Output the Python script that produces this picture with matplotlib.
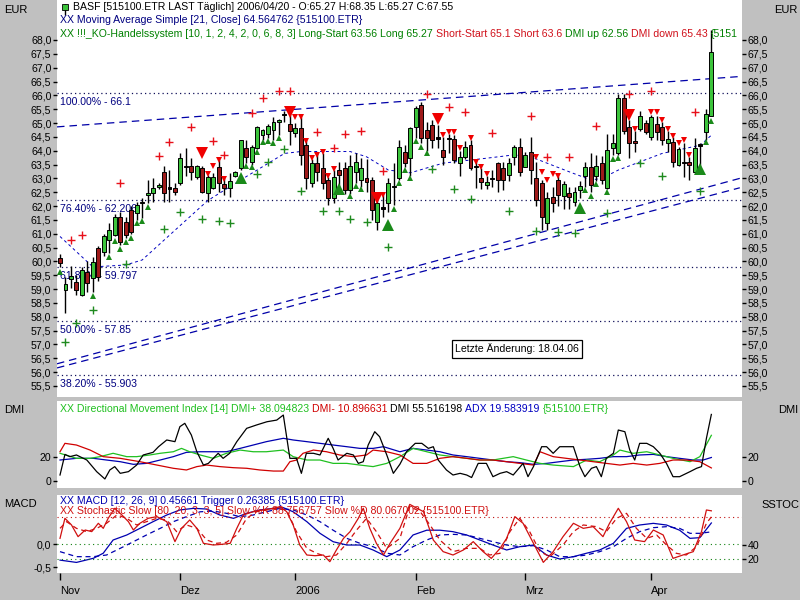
import matplotlib
matplotlib.use("Agg")
import matplotlib.pyplot as plt
from matplotlib.transforms import IdentityTransform
import numpy as np

plt.rcParams['font.family'] = ['Liberation Sans', 'DejaVu Sans']

# ---- price data (trading days from 2005-11-01 to 2006-04-20) ----
opens = [60.12, 58.96, 59.36, 59.27, 58.80, 59.60, 59.40, 60.49, 60.35, 60.78,
         60.96, 61.62, 61.44, 61.86, 61.74, 62.16, 62.40, 62.47, 62.69, 63.24,
         62.67, 62.65, 62.83, 63.41, 63.45, 63.05, 63.38, 62.47, 62.65, 63.41,
         62.80, 62.64, 63.09, 63.37, 64.09, 63.60, 64.10, 64.57, 64.60, 64.75,
         65.03, 65.28, 64.97, 64.64, 64.82, 64.20, 62.83, 63.56, 63.38, 62.94,
         62.29, 63.30, 63.38, 62.58, 63.24, 62.94, 63.03, 62.94, 61.44, 61.90,
         62.11, 62.68, 63.01, 63.97, 63.74, 64.87, 65.65, 64.75, 64.93, 64.44,
         64.03, 64.42, 64.42, 63.55, 63.77, 64.20, 63.40, 63.03, 62.76, 62.98,
         63.56, 63.38, 63.12, 63.78, 64.15, 63.42, 63.97, 63.00, 62.83, 61.38,
         62.34, 62.94, 62.37, 62.47, 62.16, 62.58, 63.09, 63.42, 63.10, 63.55,
         62.64, 64.09, 63.92, 65.90, 64.87, 64.36, 64.80, 65.01, 64.51, 64.97,
         64.87, 64.27, 64.33, 63.48, 63.55, 63.60, 63.24, 64.18, 64.69, 65.27]
highs = [60.27, 59.45, 59.85, 59.50, 59.80, 60.00, 60.17, 60.55, 61.00, 61.40,
         61.70, 61.80, 61.60, 62.00, 62.16, 62.30, 62.94, 63.00, 62.85, 63.45,
         63.30, 62.85, 63.90, 64.10, 63.74, 63.50, 63.45, 63.12, 63.20, 63.66,
         63.00, 63.20, 63.26, 64.39, 64.39, 64.20, 64.90, 64.80, 64.95, 65.20,
         65.15, 65.45, 65.36, 65.00, 65.20, 64.40, 63.70, 63.90, 63.90, 63.06,
         63.30, 63.60, 63.60, 63.85, 63.90, 63.75, 63.70, 63.06, 62.30, 62.40,
         63.00, 63.56, 64.40, 64.20, 64.87, 65.60, 65.77, 65.05, 65.10, 64.93,
         64.50, 64.60, 64.55, 64.00, 64.35, 64.40, 63.70, 63.36, 63.10, 63.30,
         63.60, 63.60, 63.74, 64.20, 64.45, 63.97, 64.50, 63.60, 62.94, 62.50,
         62.70, 63.10, 62.90, 62.70, 62.70, 62.90, 63.60, 63.90, 63.85, 63.80,
         64.60, 64.60, 66.05, 66.05, 65.10, 64.70, 65.45, 65.10, 65.30, 65.25,
         65.05, 64.70, 64.50, 64.15, 64.28, 63.78, 64.45, 64.28, 65.50, 68.35]
lows = [59.81, 58.14, 59.05, 58.80, 58.75, 58.90, 58.90, 59.30, 60.20, 60.30,
        60.90, 60.60, 60.85, 61.00, 61.50, 61.57, 62.10, 62.15, 62.60, 62.16,
        62.16, 62.40, 62.76, 63.10, 62.94, 62.98, 62.47, 62.16, 62.60, 62.52,
        62.40, 62.34, 63.05, 63.30, 63.55, 63.50, 64.05, 64.40, 64.45, 64.40,
        64.55, 65.03, 64.20, 64.50, 63.48, 62.60, 62.70, 62.90, 62.60, 62.05,
        62.10, 62.60, 62.45, 62.45, 62.85, 62.70, 62.50, 61.50, 61.14, 61.60,
        61.80, 62.04, 62.95, 63.40, 63.10, 64.46, 64.28, 64.00, 64.10, 64.08,
        63.50, 63.90, 63.55, 63.10, 63.70, 63.30, 62.65, 62.60, 62.60, 62.70,
        62.50, 62.58, 62.90, 63.50, 63.10, 63.40, 62.80, 62.00, 61.14, 61.14,
        61.80, 62.00, 61.90, 61.90, 62.00, 62.30, 62.70, 62.50, 62.90, 62.80,
        62.60, 63.85, 63.85, 64.60, 63.73, 63.95, 64.70, 64.60, 64.40, 64.40,
        64.20, 63.95, 63.40, 63.45, 63.06, 62.94, 63.18, 63.20, 64.40, 65.27]
closes = [59.94, 59.18, 59.47, 58.97, 59.69, 59.23, 59.99, 59.45, 60.92, 61.14,
          61.60, 60.71, 60.96, 61.07, 62.04, 62.10, 62.47, 62.65, 62.76, 62.46,
          62.63, 62.50, 63.74, 63.45, 63.24, 63.45, 62.52, 63.05, 63.06, 62.83,
          62.66, 62.92, 63.24, 64.39, 63.78, 64.12, 64.87, 64.75, 64.88, 65.05,
          65.10, 65.32, 64.70, 64.82, 63.85, 63.00, 63.56, 63.24, 62.83, 62.29,
          63.06, 63.12, 62.58, 63.45, 63.60, 63.38, 62.88, 61.86, 62.11, 61.95,
          62.83, 62.73, 64.15, 63.56, 64.82, 65.54, 64.46, 64.46, 64.39, 64.48,
          63.78, 64.47, 63.66, 63.78, 64.15, 63.36, 63.45, 62.88, 62.88, 63.02,
          62.94, 62.94, 63.56, 64.15, 63.24, 63.85, 63.30, 62.22, 61.62, 62.29,
          62.10, 62.40, 62.79, 62.34, 62.52, 62.74, 63.40, 62.75, 63.45, 62.94,
          64.03, 64.27, 65.90, 64.70, 64.27, 64.27, 65.25, 64.69, 65.23, 64.69,
          64.39, 64.41, 63.60, 64.05, 63.58, 63.48, 64.09, 64.23, 65.33, 67.55]

# simple moving average 21
ma_idx = [0, 6, 12, 15, 27, 33, 41, 44, 53, 56, 60, 64, 70, 78, 83, 86, 93, 97, 99, 102, 110, 117, 119]
ma_val = [60.9, 59.8, 59.87, 60.05, 62.2, 62.94, 63.9, 63.97, 63.97, 63.78, 63.3, 63.2, 63.55,
          63.73, 63.85, 63.78, 63.24, 62.94, 63.0, 63.3, 63.9, 64.2, 64.56]

# trend lines (start/end index and price)
trend_upper = ([-0.55, 124.2], [64.86, 66.68])
trend_low1 = ([-0.55, 124.2], [56.30, 63.00])
trend_low2 = ([-0.55, 124.2], [56.15, 62.66])

fib_levels = [66.1, 62.206, 59.797, 57.85, 55.903]
fib_labels = ['100.00% - 66.1', '76.40% - 62.206', '61.80% - 59.797', '50.00% - 57.85', '38.20% - 55.903']

# trading system signals
red_plus_idx = [2, 4, 11, 18, 20, 24, 28, 30, 35, 37, 40, 42, 47, 50, 52, 55, 59, 67, 71, 74, 79, 86, 89, 93, 98, 104, 108, 116]
red_plus_val = [60.77, 60.95, 62.84, 63.82, 64.33, 64.87, 64.35, 63.85, 65.35, 65.89, 66.16, 66.16, 64.68, 64.09,
                64.59, 64.71, 63.27, 66.04, 65.59, 65.39, 64.63, 65.27, 63.78, 63.78, 64.89, 66.04, 66.16, 65.39]
green_plus_idx = [1, 3, 6, 12, 19, 22, 26, 29, 31, 36, 38, 41, 44, 48, 51, 53, 56, 60, 68, 72, 75, 82, 87, 91, 94, 100, 106, 110, 117]
green_plus_val = [57.1, 57.77, 58.25, 59.9, 61.16, 61.8, 61.52, 61.47, 61.38, 63.16, 63.6, 64.05, 62.55, 61.82, 61.82,
                  61.53, 61.44, 60.53, 63.33, 62.61, 62.26, 61.82, 61.11, 61.05, 61.02, 61.76, 63.55, 63.09, 62.55]
short_idx = [27, 28, 29, 30, 43, 44, 45, 46, 47, 48, 49, 50, 59, 70, 71, 72, 73, 75, 76, 77, 78, 87, 88, 89, 90, 91,
             105, 108, 109, 110, 111, 112, 113, 114, 115]
short_val = [63.15, 63.45, 63.66, 62.98, 65.23, 65.2, 64.35, 63.75, 63.85, 63.94, 63.1, 63.35, 62.4, 64.55, 64.67,
             64.67, 64.1, 64.45, 63.6, 63.42, 63.16, 63.78, 63.24, 62.94, 63.16, 63.1,
             64.77, 65.4, 65.4, 65.1, 64.78, 64.53, 64.27, 64.4, 63.85]
short_start_idx = [26, 42, 58, 69, 104]
short_start_val = [63.93, 65.38, 62.28, 65.13, 65.29]
long_idx = [0, 6, 9, 10, 11, 12, 13, 14, 15, 16, 34, 35, 36, 37, 38, 39, 40, 53, 54, 55, 61, 62, 63, 64, 65, 66, 67,
            96, 97, 98, 100, 101, 102, 118, 119]
long_val = [59.6, 58.75, 60.15, 60.75, 60.45, 60.7, 60.85, 61.4, 61.45, 61.95, 63.45, 63.4, 63.95, 64.3, 64.35, 64.27,
            64.45, 62.35, 62.73, 62.6, 61.9, 62.85, 63.3, 63.0, 64.35, 64.15, 63.9,
            62.58, 62.38, 62.8, 62.5, 63.7, 63.75, 64.3, 65.09]
long_start_idx = [33, 51, 60, 95, 117]
long_start_val = [63.0, 62.6, 61.32, 61.92, 63.33]

# ---- DMI panel ----
dx_idx = [0, 0.9, 1.8, 3, 4.9, 6.7, 8.2, 9.1, 10, 11, 12.5, 14, 15.2, 17, 18, 19.5, 21, 21.9, 22.8, 24, 25, 26.2,
          27.1, 28, 28.9, 29.8, 31, 32.3, 34.1, 35.9, 37.8, 39.6, 40.8, 42, 43.2, 44.1, 45, 46.3, 47.5, 49, 49.9,
          50.8, 52.4, 53.6, 54.5, 55.4, 56.3, 57.5, 58.4, 59.7, 60.9, 62.1, 63.3, 64.9, 66.1, 67.3, 68.2, 69.1,
          70.6, 71.8, 73.1, 74.3, 75.2, 76.4, 77.9, 79.1, 80.4, 81.6, 82.8, 84.6, 85.5, 86.5, 88, 88.9, 90.1, 91.3,
          92.5, 93.8, 95, 95.9, 97.1, 98, 98.9, 99.8, 101.1, 102, 103.2, 104.1, 105, 105.9, 107.2, 108.4, 109.6,
          110.8, 112, 113.2, 115.1, 116.3, 117.2, 118.1, 119]
dx_val = [5.0, 22.2, 20.3, 21.7, 17.5, 7.8, 1.7, 9.2, 12.0, 6.4, 7.8, 13.3, 21.7, 23.9, 28.6, 34.2, 32.8, 45.3, 48.1,
          38.3, 24.4, 13.3, 14.7, 18.9, 23.1, 18.9, 23.1, 32.8, 43.9, 46.7, 49.4, 50.8, 55.0, 18.9, 18.9, 6.4, 23.1,
          23.1, 21.7, 35.6, 27.2, 17.5, 23.1, 21.7, 14.7, 16.1, 30.0, 41.1, 36.9, 21.7, 6.4, 14.0, 24.4, 31.4, 31.4,
          27.2, 28.6, 17.5, 9.2, 5.0, 6.4, 5.0, 2.9, 14.7, 14.7, 3.6, 6.4, 7.8, 5.0, 14.7, 3.6, 12.0, 28.6, 28.6,
          23.1, 28.6, 28.6, 28.6, 12.0, 3.6, 10.6, 12.0, 3.6, 18.9, 23.1, 42.5, 41.1, 25.8, 17.5, 31.4, 31.4, 28.6,
          23.1, 14.7, 3.6, 3.6, 7.8, 10.6, 12.0, 35.6, 55.5]
dip_idx = [0, 3, 5.5, 7.3, 9.7, 12.2, 14, 16.4, 18.3, 20.7, 22.2, 23.7, 25.6, 28, 30.4, 32.9, 35.3, 37.7, 40.8, 42.6,
           45.1, 47.5, 49.9, 52.4, 54.8, 57.2, 59.7, 62.1, 64.5, 67, 69.4, 71.8, 74.3, 76.7, 79.1, 82.8, 85.2, 87.7,
           90.1, 93.8, 96.2, 98.6, 101.1, 102.3, 104.7, 107.2, 109.6, 112, 115.1, 116.9, 119]
dip_val = [23.1, 18.9, 18.9, 20.3, 23.1, 20.3, 20.3, 21.7, 23.1, 24.4, 27.2, 24.4, 21.7, 18.9, 23.1, 25.8, 24.4, 24.4,
           25.8, 20.3, 17.5, 17.5, 14.7, 14.7, 13.3, 12.0, 14.7, 20.3, 27.2, 24.4, 21.7, 20.3, 18.9, 17.5, 17.5, 20.3,
           17.5, 14.7, 13.3, 12.0, 17.5, 16.1, 21.7, 25.8, 23.1, 24.4, 21.7, 18.9, 16.1, 20.3, 38.1]
dim_idx = [0, 0.9, 3, 5.5, 7.9, 11, 14.6, 17.7, 20.7, 23.1, 25, 26.8, 29.2, 31.7, 34.1, 36.5, 39, 40.8, 42, 43.2,
           44.4, 46.3, 48.7, 51.1, 53.6, 56, 57.2, 59.7, 62.1, 64.5, 67, 69.4, 71.8, 74.3, 76.7, 79.1, 81.6, 84,
           86.5, 87.7, 90.1, 92.5, 95, 97.4, 99.8, 102.3, 104.7, 107.2, 109.6, 112, 114.4, 116.9, 119]
dim_val = [24.4, 31.4, 30.0, 25.8, 20.3, 18.9, 16.1, 13.3, 10.6, 9.2, 12.0, 13.3, 12.0, 11.1, 10.6, 9.2, 8.3, 8.3,
           16.1, 17.5, 23.1, 25.8, 24.4, 21.7, 20.3, 21.7, 25.8, 24.4, 21.7, 14.7, 14.7, 18.9, 20.3, 18.9, 17.5,
           17.5, 16.1, 14.7, 13.3, 24.4, 20.3, 18.9, 17.5, 16.1, 14.7, 13.3, 14.7, 13.3, 14.7, 17.5, 17.5, 16.1, 10.9]
adx_idx = [0, 3, 6.1, 8.5, 11, 13.4, 15.8, 18.3, 20.7, 23.1, 25.6, 28, 30.4, 32.9, 35.3, 37.7, 40.8, 42.6, 45.1,
           47.5, 49.9, 52.4, 54.8, 57.2, 59.1, 62.1, 64.5, 67, 69.4, 71.8, 74.3, 76.7, 79.1, 81.6, 84, 86.5, 88.9,
           91.3, 93.8, 96.2, 98.6, 101.1, 103.5, 105.9, 108.4, 110.8, 113.2, 115.7, 117.5, 119]
adx_val = [17.5, 18.9, 18.9, 17.5, 16.1, 13.9, 14.7, 17.5, 20.3, 23.9, 24.4, 24.4, 24.4, 27.2, 30.0, 32.8, 35.6,
           34.2, 32.8, 31.4, 30.0, 28.6, 27.2, 27.2, 28.6, 24.4, 27.2, 25.8, 24.4, 21.7, 20.3, 18.9, 17.5, 16.1,
           15.3, 13.9, 14.7, 16.1, 17.5, 18.1, 18.9, 20.3, 20.3, 21.7, 22.2, 20.3, 18.9, 17.5, 17.5, 19.6]

# ---- MACD / slow stochastics panel ----
macd_idx = [0, 3, 6.1, 7.9, 9.7, 12.2, 14.6, 17, 19.5, 21.9, 24.4, 26.8, 29.2, 31.7, 34.1, 36.5, 39, 40.8, 42.6,
            45.1, 47.5, 49.9, 52.4, 54.8, 57.2, 59.7, 62.1, 64.5, 67, 69.4, 71.8, 74.3, 76.7, 79.1, 81.6, 84, 86.5,
            88.9, 91.3, 93.8, 96.2, 98.6, 101.1, 103.5, 105.9, 108.4, 110.8, 113.2, 115.1, 116.9, 119]
macd_val = [-0.35, -0.40, -0.31, -0.20, 0.087, 0.196, 0.34, 0.485, 0.63, 0.74, 0.775, 0.76, 0.63, 0.558, 0.667,
            0.74, 0.775, 0.79, 0.70, 0.485, 0.232, 0.05, -0.022, -0.022, -0.13, -0.275, -0.13, 0.196, 0.30, 0.30,
            0.268, 0.196, 0.087, -0.022, -0.13, -0.058, -0.022, -0.239, -0.326, -0.275, -0.20, -0.13, 0.015, 0.34,
            0.413, 0.449, 0.413, 0.30, 0.123, 0.138, 0.457]
trig_idx = [0, 3, 6.1, 8.5, 11, 13.4, 15.8, 18.3, 20.7, 23.1, 25.6, 28, 30.4, 32.9, 35.3, 37.7, 40.2, 42.6, 45.1,
            47.5, 49.9, 52.4, 54.8, 57.2, 59.7, 62.1, 64.5, 67, 69.4, 71.8, 74.3, 76.7, 79.1, 81.6, 84, 86.5, 88.9,
            91.3, 93.8, 96.2, 98.6, 101.1, 103.5, 105.9, 108.4, 110.8, 113.2, 115.1, 116.9, 119]
trig_val = [-0.166, -0.275, -0.275, -0.239, -0.094, 0.05, 0.196, 0.34, 0.485, 0.594, 0.70, 0.717, 0.667, 0.594,
            0.63, 0.70, 0.775, 0.74, 0.63, 0.485, 0.30, 0.123, 0.015, -0.058, -0.20, -0.239, -0.058, 0.087, 0.196,
            0.21, 0.196, 0.123, 0.05, -0.022, -0.058, -0.036, -0.13, -0.275, -0.275, -0.239, -0.166, -0.058, 0.123,
            0.268, 0.355, 0.377, 0.34, 0.232, 0.232, 0.264]
stk_idx = [0, 0.9, 2.1, 3.3, 4.6, 5.8, 7, 7.9, 8.8, 10, 11.3, 12.5, 13.4, 14.6, 16.1, 17.7, 19.5, 21, 22.2, 23.7,
           25, 26.2, 28, 29.5, 31.1, 32.3, 33.5, 35.3, 37.1, 39, 40.2, 41.4, 42.6, 43.8, 45.1, 46.6, 48.1, 49.3,
           50.5, 51.8, 53, 54.5, 55.4, 56.6, 57.8, 59.1, 60.3, 62.1, 63.9, 66.4, 68.2, 70, 71.8, 73.7, 75.5, 77.3,
           78.8, 80.4, 81.6, 83.1, 84.6, 86.5, 88.3, 90.1, 91.9, 93.8, 95.6, 97.4, 99.2, 100.4, 102, 103.5, 105,
           106.8, 108.4, 110.2, 112, 113.8, 115.7, 117.2, 118.1, 119]
stk_val = [49.5, 78.1, 68.6, 51.9, 61.4, 59.1, 71.0, 63.8, 78.1, 92.4, 82.9, 73.3, 61.4, 71.0, 78.1, 80.5, 73.3,
           44.8, 63.8, 75.7, 63.8, 42.4, 40.0, 40.9, 42.4, 63.8, 82.9, 87.6, 90.0, 92.4, 94.8, 87.6, 68.6, 40.0,
           25.7, 24.7, 25.7, 16.2, 32.9, 49.5, 59.1, 78.1, 92.4, 63.8, 42.4, 25.7, 42.4, 63.8, 98.0, 87.6, 47.1,
           30.5, 25.7, 32.9, 44.8, 30.5, 20.9, 35.2, 49.5, 80.5, 71.0, 42.4, 15.2, 30.5, 51.9, 71.0, 63.8, 66.2,
           51.9, 71.0, 92.4, 73.3, 47.1, 44.8, 61.4, 54.3, 20.9, 25.7, 30.5, 59.1, 90.0, 88.8]
std_idx = [0, 1.2, 3, 4.9, 6.7, 8.5, 10.4, 12.2, 14, 15.8, 17.7, 19.5, 21.3, 23.1, 25, 26.8, 28.6, 30.4, 32.3,
           34.1, 35.9, 37.7, 39.6, 41.4, 43.2, 45.1, 46.9, 48.7, 50.5, 52.4, 54.2, 56, 57.8, 59.7, 62.1, 63.9,
           65.8, 67.6, 69.4, 71.8, 74.3, 76.7, 78.5, 80.4, 82.2, 84, 85.8, 87.7, 89.5, 91.9, 93.8, 95.6, 98, 99.8,
           101.7, 103.5, 105.3, 107.2, 109, 110.8, 112.6, 114.4, 116.3, 118.1, 119]
std_val = [63.8, 73.3, 63.8, 59.1, 63.8, 71.0, 82.9, 78.1, 68.6, 73.3, 78.1, 75.7, 59.1, 68.6, 63.8, 47.1, 42.4,
           43.8, 54.3, 78.1, 87.6, 90.0, 92.4, 90.0, 59.1, 35.2, 28.1, 23.3, 25.7, 42.4, 61.4, 78.1, 59.1, 35.2,
           49.5, 95.0, 87.6, 68.6, 47.1, 30.5, 35.2, 35.2, 25.7, 28.1, 59.1, 78.1, 59.1, 30.5, 23.3, 40.0, 59.1,
           68.6, 66.2, 59.1, 78.1, 85.2, 63.8, 49.5, 54.3, 40.0, 28.1, 25.7, 37.6, 71.0, 80.1]

month_idx = [0, 22, 43, 65, 85, 108]
month_lbl = ['Nov', 'Dez', '2006', 'Feb', 'Mrz', 'Apr']

# ---- colours ----
NAVY = '#000080'
GREEN_TXT = '#008000'
RED_TXT = '#d0101a'
LIME = '#20c020'
CANDLE_UP = '#3cc43c'
CANDLE_DN = '#9e1a1a'
FS = 7.6

W, H = 800, 600
fig = plt.figure(figsize=(8, 6), dpi=100)
fig.patch.set_facecolor('#c0c0c0')


def frame(top, bottom, left=57, right=742):
    return [left / W, 1 - bottom / H, (right - left) / W, (bottom - top) / H]


ax = fig.add_axes(frame(0, 397))
ax_dmi = fig.add_axes(frame(401, 488))
ax_macd = fig.add_axes(frame(495, 573))
ax_sto = ax_macd.twinx()

for a in (ax, ax_dmi, ax_macd, ax_sto):
    a.set_xlim(-0.55, 124.6)
    for s in a.spines.values():
        s.set_visible(False)
    a.tick_params(labelsize=FS, direction='out', length=3, width=1, pad=1, colors='black')

ax.set_ylim(55.1, 69.445)
ax_dmi.set_ylim(-5.83, 66.7)
ax_macd.set_ylim(-0.63, 1.065)
ax_sto.set_ylim(0, 111.4)

# ---- main panel ----
for lev, lab in zip(fib_levels, fib_labels):
    ax.axhline(lev, color='#10105a', lw=0.9, ls=(0, (1, 2.5)), zorder=1)
    ax.annotate(lab, xy=(0, lev), xycoords=('axes fraction', 'data'), xytext=(3, -9),
                textcoords='offset pixels', va='center', ha='left', fontsize=FS, color=NAVY)

for xs, ys in (trend_upper, trend_low1, trend_low2):
    ax.plot(xs, ys, color='#0000a8', lw=0.9, ls=(0, (6, 4)), zorder=2)
ax.plot(ma_idx, ma_val, color='#0000c0', lw=0.7, ls=(0, (3, 3)), zorder=2)

o = np.array(opens)
c = np.array(closes)
idx = np.arange(len(o))
ax.vlines(idx, lows, highs, color='black', lw=1, zorder=3)
body_cols = np.where(np.abs(c - o) < 0.06, 'black', np.where(c > o, CANDLE_UP, CANDLE_DN))
ax.bar(idx, np.maximum(np.abs(c - o), 0.03), bottom=np.minimum(o, c), width=0.72,
       color=body_cols, edgecolor='black', linewidth=0.7, zorder=4)

ax.plot(red_plus_idx, red_plus_val, '+', color='#e8101a', ms=6, mew=1, zorder=5)
ax.plot(green_plus_idx, green_plus_val, '+', color='#1f8a1f', ms=6, mew=1, zorder=5)
ax.plot(short_idx, short_val, 'v', color='#f00000', ms=5, mew=0, zorder=5)
ax.plot(short_start_idx, short_start_val, 'v', color='#f00000', ms=9, mew=0, zorder=5)
ax.plot(long_idx, long_val, '^', color='#1a8a1a', ms=5, mew=0, zorder=5)
ax.plot(long_start_idx, long_start_val, '^', color='#1a8a1a', ms=9, mew=0, zorder=5)

yt = np.arange(55.5, 68.01, 0.5)
ax.set_yticks(yt)
ax.set_yticklabels([f'{v:.1f}'.replace('.', ',') for v in yt])
ax.tick_params(axis='y', left=True, right=True, labelleft=True, labelright=True)
ax.tick_params(axis='x', bottom=False, labelbottom=False)

# ---- DMI panel ----
ax_dmi.plot(adx_idx, adx_val, color='#0000b0', lw=0.9)
ax_dmi.plot(dip_idx, dip_val, color=LIME, lw=0.9)
ax_dmi.plot(dim_idx, dim_val, color='#d00000', lw=0.9)
ax_dmi.plot(dx_idx, dx_val, color='black', lw=0.9)
ax_dmi.set_yticks([0, 20])
ax_dmi.set_yticklabels(['0', '20'])
ax_dmi.tick_params(axis='y', left=True, right=True, labelleft=True, labelright=True)
ax_dmi.tick_params(axis='x', bottom=False, labelbottom=False)

# ---- MACD / stochastics panel ----
ax_macd.axhline(0, color='#108010', lw=0.8, ls=(0, (1, 3)))
ax_sto.axhline(20, color='#108010', lw=0.8, ls=(0, (1, 3)))
ax_sto.axhline(80, color='#c01010', lw=0.8, ls=(0, (1, 3)))
ax_macd.plot(macd_idx, macd_val, color='#0000b0', lw=0.9)
ax_macd.plot(trig_idx, trig_val, color='#0000b0', lw=0.9, ls=(0, (4, 3)))
ax_sto.plot(stk_idx, stk_val, color='#d01010', lw=0.9)
ax_sto.plot(std_idx, std_val, color='#d01010', lw=0.9, ls=(0, (4, 3)))
ax_macd.set_yticks([-0.5, 0.0])
ax_macd.set_yticklabels(['-0,5', '0,0'])
ax_sto.set_yticks([20, 40])
ax_sto.set_yticklabels(['20', '40'])
ax_macd.set_xticks(month_idx)
ax_macd.set_xticklabels(month_lbl)
ax_macd.tick_params(axis='x', length=5, pad=4, labelsize=8)
for lab in ax_macd.get_xticklabels():
    lab.set_ha('left')
ax_sto.tick_params(axis='x', bottom=False, labelbottom=False)

# ---- legends (multi coloured text lines) ----
renderer = fig.canvas.get_renderer()


def colored_line(axis, x_px, y_px, parts, size=FS):
    x = x_px
    for s, col in parts:
        t = axis.text(x, H - y_px, s, color=col, fontsize=size, va='center', ha='left',
                      transform=IdentityTransform(), clip_on=True, zorder=10)
        x += t.get_window_extent(renderer).width


# candle icon in header
ax.vlines([1.0], 68.9, 69.3, color='black', lw=1, zorder=6)
ax.plot([1.0], [69.18], 's', color=CANDLE_UP, mec='black', mew=0.6, ms=5, zorder=7)

colored_line(ax, 73, 7, [('BASF [515100.ETR LAST Täglich] 2006/04/20 - O:65.27 H:68.35 L:65.27 C:67.55', 'black')])
colored_line(ax, 60, 20, [('XX Moving Average Simple [21, Close] 64.564762 {515100.ETR}', NAVY)])
# the last piece is cut at the panel edge, as on the original screen
colored_line(ax, 60, 34, [('XX !!!_KO-Handelssystem [10, 1, 2, 4, 2, 0, 6, 8, 3] Long-Start 63.56 Long 65.27 ', GREEN_TXT),
                          ('Short-Start 65.1 Short 63.6 ', RED_TXT),
                          ('DMI up 62.56 ', GREEN_TXT),
                          ('DMI down 65.43 ', RED_TXT),
                          ('{5151', GREEN_TXT)])
colored_line(ax_dmi, 60, 409, [('XX Directional Movement Index [14] DMI+ 38.094823 ', LIME),
                               ('DMI- 10.896631 ', '#d00000'),
                               ('DMI 55.516198 ', 'black'),
                               ('ADX 19.583919 ', '#0000c0'),
                               ('{515100.ETR}', LIME)])
colored_line(ax_sto, 60, 501, [('XX MACD [12, 26, 9] 0.45661 Trigger 0.26385 {515100.ETR}', '#0000b0')])
colored_line(ax_sto, 60, 511, [('XX Stochastic Slow [80, 20, 3, 3, 5] Slow %K 88.756757 Slow %D 80.067002 {515100.ETR}', '#d01010')])

fig.text(455 / W, 1 - 349 / H, 'Letzte Änderung: 18.04.06', fontsize=FS, va='center', ha='left',
         bbox=dict(boxstyle='square,pad=0.3', fc='white', ec='black', lw=0.9))

# panel captions on the grey border
for x_px, y_px, s in [(4, 10, 'EUR'), (774, 10, 'EUR'), (4, 410, 'DMI'), (778, 410, 'DMI'),
                      (4, 504, 'MACD'), (761, 505, 'SSTOC')]:
    fig.text(x_px / W, 1 - y_px / H, s, fontsize=8, va='center', ha='left')

fig.savefig('out.png', dpi=100, facecolor=fig.get_facecolor())
